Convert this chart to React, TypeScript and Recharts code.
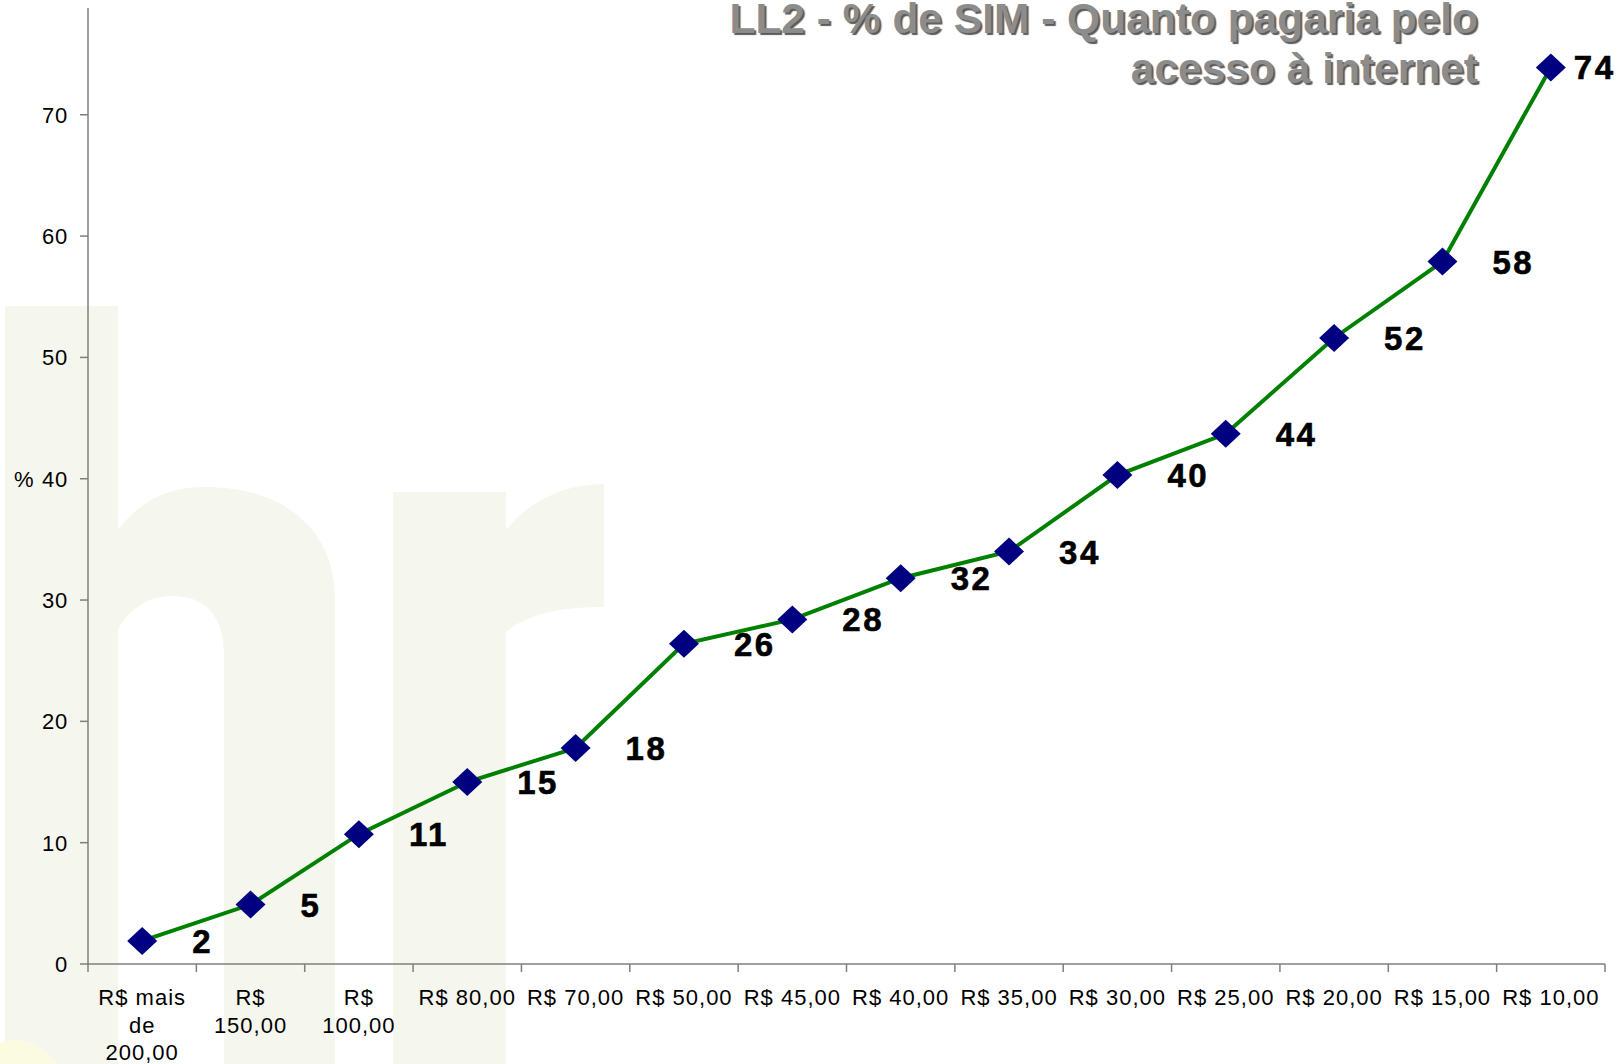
import { ComposedChart, Line, XAxis, YAxis, LabelList } from "recharts";

const categories = [
  "R$ mais\nde\n200,00",
  "R$\n150,00",
  "R$\n100,00",
  "R$ 80,00",
  "R$ 70,00",
  "R$ 50,00",
  "R$ 45,00",
  "R$ 40,00",
  "R$ 35,00",
  "R$ 30,00",
  "R$ 25,00",
  "R$ 20,00",
  "R$ 15,00",
  "R$ 10,00",
];
const simValues = [1.9, 4.9, 10.7, 15.0, 17.8, 26.4, 28.4, 31.8, 34.0, 40.3, 43.7, 51.6, 57.9, 73.9];
const yTicks = [0, 10, 20, 30, 40, 50, 60, 70];
const titleLines = ["LL2 - % de SIM - Quanto pagaria pelo", "acesso à internet"];

const data = categories.map((c, i) => ({ price: c, sim: simValues[i] }));

const W = 1621;
const H = 1064;
const PLOT_LEFT = 88;
const PLOT_RIGHT = 1605;
const PLOT_TOP = 8;
const PLOT_BOTTOM = 964;
const BAND = (PLOT_RIGHT - PLOT_LEFT) / categories.length;
const AXIS = "#7f7f7f";
const FONT = "'Liberation Sans', Arial, Helvetica, sans-serif";

function PriceTick(props: any) {
  const { x, y, payload, index } = props;
  const lines = String(payload.value).split("\n");
  return (
    <g>
      <line x1={x - BAND / 2} x2={x - BAND / 2} y1={y} y2={y + 8} stroke={AXIS} strokeWidth={1.5} />
      {index === categories.length - 1 && (
        <line x1={x + BAND / 2} x2={x + BAND / 2} y1={y} y2={y + 8} stroke={AXIS} strokeWidth={1.5} />
      )}
      <text x={x} y={y + 41} textAnchor="middle" fill="#000" fontSize={22} fontFamily={FONT} letterSpacing={1}>
        {lines.map((l, i) => (
          <tspan key={i} x={x} dy={i === 0 ? 0 : 27.5}>
            {l}
          </tspan>
        ))}
      </text>
    </g>
  );
}

function PctTick(props: any) {
  const { x, y, payload } = props;
  return (
    <g>
      <text x={x} y={y + 8} textAnchor="end" fill="#000" fontSize={22} fontFamily={FONT} letterSpacing={0.8}>
        {payload.value}
      </text>
      {payload.value === 40 && (
        <text x={14} y={y + 8} textAnchor="start" fill="#000" fontSize={22} fontFamily={FONT}>
          %
        </text>
      )}
    </g>
  );
}

function Diamond(props: any) {
  const { cx, cy } = props;
  if (cx == null || cy == null) return null;
  return (
    <polygon
      points={`${cx},${cy - 14} ${cx + 15},${cy} ${cx},${cy + 14} ${cx - 15},${cy}`}
      fill="#000080"
    />
  );
}

function ValueLabel(props: any) {
  const { x, y, value, index } = props;
  const dx = index === simValues.length - 1 ? 23 : 50;
  return (
    <text
      x={x + dx}
      y={y + 12}
      fill="#000"
      stroke="#000"
      strokeWidth={0.6}
      fontSize={33}
      fontWeight="bold"
      fontFamily={FONT}
      letterSpacing={2.5}
    >
      {Math.round(value)}
    </text>
  );
}

function Watermark() {
  const c = "#f5f6ee";
  return (
    <svg width={W} height={H} style={{ position: "absolute", left: 0, top: 0 }}>
      <rect x={5} y={306} width={113} height={H - 306} fill={c} />
      <path
        d="M118,530 C140,500 170,487 205,487 C285,487 335,530 335,600 L335,1064 L224,1064 L224,655 C224,615 205,596 172,596 C148,596 128,610 118,630 Z"
        fill={c}
      />
      <rect x={393} y={492} width={113} height={H - 492} fill={c} />
      <path d="M506,530 C530,500 565,484 604,484 L604,607 C565,607 530,612 506,632 Z" fill={c} />
      <ellipse cx={15} cy={1095} rx={50} ry={55} fill="#fbfbe2" />
    </svg>
  );
}

export default function App() {
  return (
    <div style={{ position: "absolute", left: 0, top: 0, width: W, height: H, background: "#fff", overflow: "hidden" }}>
      <Watermark />
      <div style={{ position: "absolute", left: 0, top: 0 }}>
        <ComposedChart
          width={W}
          height={H}
          data={data}
          margin={{ top: PLOT_TOP, right: W - PLOT_RIGHT, bottom: 0, left: 0 }}
        >
          <XAxis
            dataKey="price"
            scale="band"
            interval={0}
            height={H - PLOT_BOTTOM}
            tickSize={0}
            tickMargin={0}
            tick={<PriceTick />}
            axisLine={{ stroke: AXIS, strokeWidth: 1.5 }}
            tickLine={false}
          />
          <YAxis
            width={PLOT_LEFT}
            domain={[0, 78.8]}
            ticks={yTicks}
            allowDataOverflow
            tickSize={8}
            tickMargin={12}
            tick={<PctTick />}
            axisLine={{ stroke: AXIS, strokeWidth: 1.5 }}
            tickLine={{ stroke: AXIS, strokeWidth: 1.5 }}
          />
          <Line
            dataKey="sim"
            type="linear"
            stroke="#008000"
            strokeWidth={4}
            dot={<Diamond />}
            activeDot={false}
            isAnimationActive={false}
          >
            <LabelList dataKey="sim" content={<ValueLabel />} />
          </Line>
        </ComposedChart>
      </div>
      <div
        style={{
          position: "absolute",
          right: W - 1478,
          top: -6,
          textAlign: "right",
          fontFamily: FONT,
          fontWeight: "bold",
          fontSize: 42.5,
          lineHeight: "50px",
          color: "#8c8c8c",
          textShadow: "2px 2px 1px #5a5a5a",
          whiteSpace: "nowrap",
        }}
      >
        {titleLines.map((l, i) => (
          <div key={i}>{l}</div>
        ))}
      </div>
    </div>
  );
}
